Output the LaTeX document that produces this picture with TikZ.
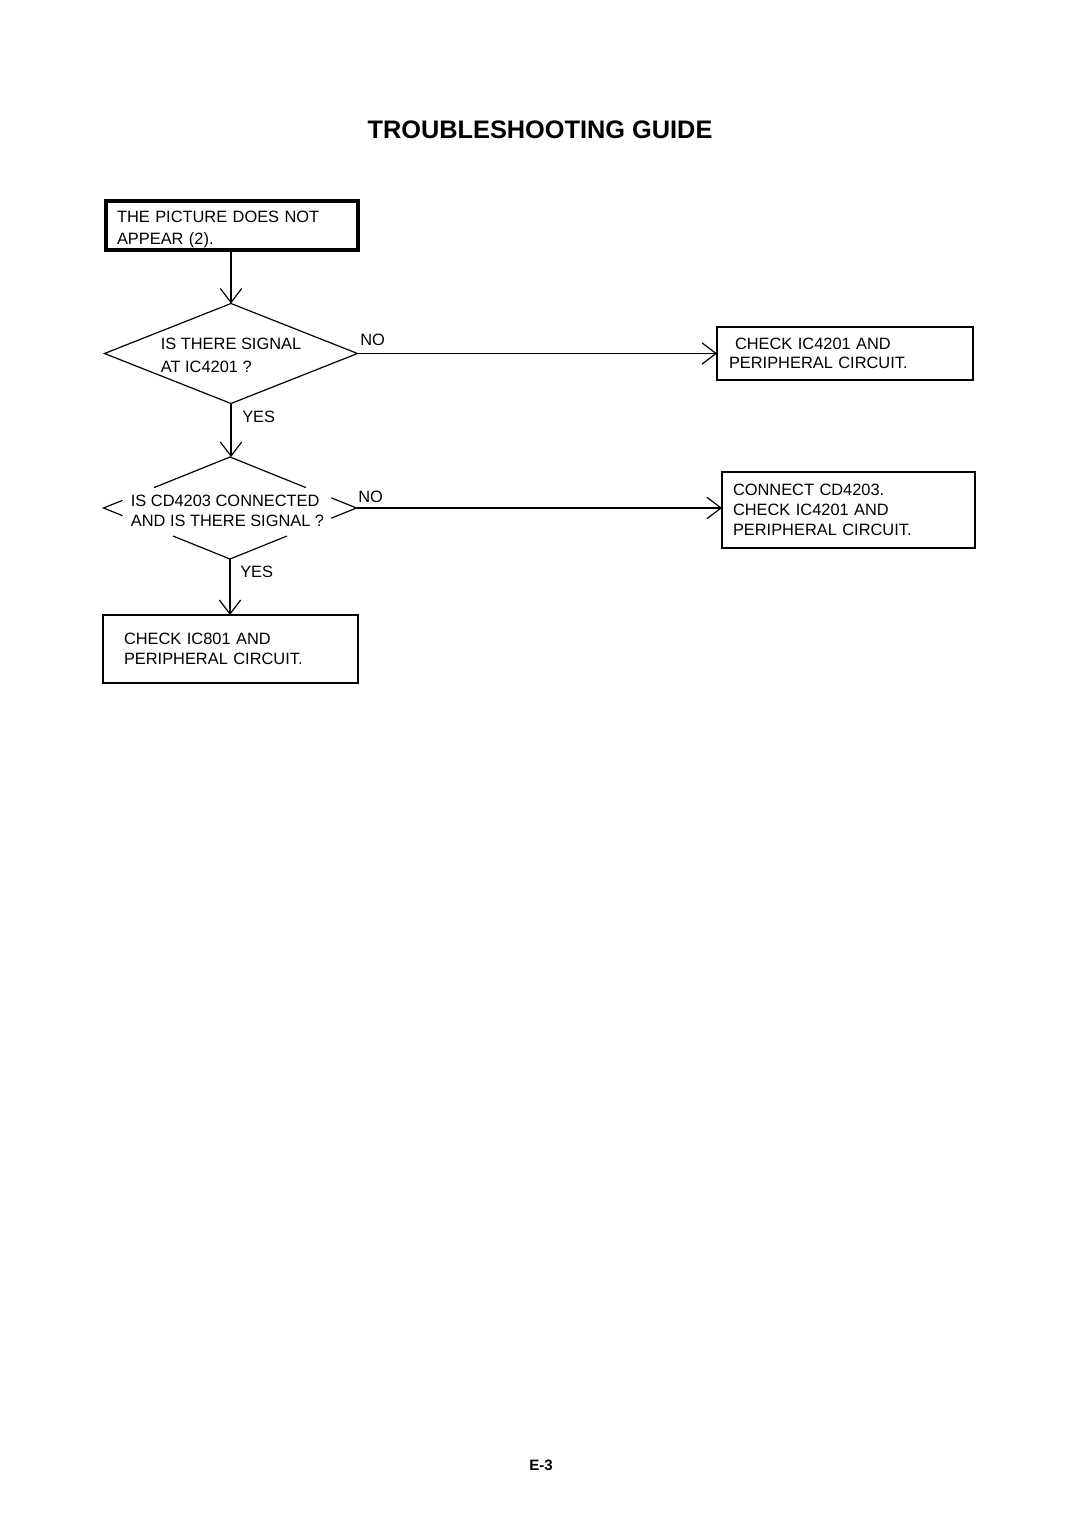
\documentclass[tikz,border=0pt]{standalone}
\usepackage{fontspec}
\setmainfont{Liberation Sans}
\usetikzlibrary{shapes.geometric,arrows.meta,calc}
\tikzset{
  txt/.style={font=\fontsize{12.3pt}{15pt}\selectfont},
  conn/.style={line width=0.9pt},
  arr/.style={conn,-{Straight Barb[length=10.5pt,width=16pt,line width=0.9pt]}},
  box/.style={draw,line width=0.9pt,rectangle,align=left,outer sep=0pt,txt},
  dia/.style={shape=diamond,inner sep=0pt,outer sep=0pt,line width=0.9pt},
  lbl/.style={txt,inner sep=0pt,anchor=west}
}
\begin{document}
\begin{tikzpicture}[x=0.75pt,y=-0.75pt]
\useasboundingbox (0,0) rectangle (1080,1528);

\node[font=\bfseries\fontsize{19pt}{23pt}\selectfont,inner sep=0pt] (title) at (540,130) {TROUBLESHOOTING GUIDE};

% start box
\node[box,line width=2.6pt,minimum width=252*0.75pt,minimum height=49*0.75pt,
      inner xsep=11*0.75pt,inner ysep=0pt,text width=230*0.75pt,
      font=\fontsize{12.3pt}{16.5pt}\selectfont] (b1) at (232,225.5)
  {\rule{0pt}{15pt}THE PICTURE DOES NOT\\APPEAR (2).};

% decision 1
\node[dia,draw,minimum width=253*0.75pt,minimum height=100*0.75pt] (d1) at (231,353.5) {};
\node[txt,align=left,inner sep=0pt,font=\fontsize{12.3pt}{16.9pt}\selectfont] (t1) at (231,355.5)
  {IS THERE SIGNAL\\AT IC4201 ?};

% box A
\node[box,minimum width=256*0.75pt,minimum height=53*0.75pt,
      inner xsep=12*0.75pt,text width=232*0.75pt,
      font=\fontsize{12.3pt}{14.6pt}\selectfont] (bA) at (845,353.5)
  {\hspace*{4.5pt}CHECK IC4201 AND\\PERIPHERAL CIRCUIT.};

% decision 2 (broken outline)
\node[dia,minimum width=253*0.75pt,minimum height=102*0.75pt] (d2) at (230,508) {};
\node[txt,align=left,inner sep=0pt] (t2) at (227.5,510.5)
  {IS CD4203 CONNECTED\\AND IS THERE SIGNAL ?};
\draw[conn] ($(d2.north)!0.6!(d2.west)$) -- (d2.north) -- ($(d2.north)!0.6!(d2.east)$);
\draw[conn] ($(d2.south)!0.45!(d2.west)$) -- (d2.south) -- ($(d2.south)!0.45!(d2.east)$);
\draw[conn] ($(d2.west)!0.15!(d2.north)$) -- (d2.west) -- ($(d2.west)!0.15!(d2.south)$);
\draw[conn] ($(d2.east)!0.2!(d2.north)$) -- (d2.east) -- ($(d2.east)!0.2!(d2.south)$);

% box B
\node[box,minimum width=253*0.75pt,minimum height=76*0.75pt,
      inner xsep=11*0.75pt,text width=231*0.75pt] (bB) at (848.5,510)
  {CONNECT CD4203.\\CHECK IC4201 AND\\PERIPHERAL CIRCUIT.};

% box C
\node[box,minimum width=255*0.75pt,minimum height=68*0.75pt,
      inner xsep=21*0.75pt,text width=213*0.75pt] (bC) at (230.5,649)
  {CHECK IC801 AND\\PERIPHERAL CIRCUIT.};

% connectors
\draw[arr] (d1.north |- b1.south) -- (d1.north);
\draw[arr] (d1.east) -- (bA.west);
\draw[arr] (d1.south) -- (d1.south |- d2.north);
\draw[arr] (d2.east) -- (d2.east -| bB.west);
\draw[arr] (d2.south) -- (d2.south |- bC.north);

% labels
\node[lbl] (no1) at (360,340) {NO};
\node[lbl] (yes1) at (242,417) {YES};
\node[lbl] (no2) at (358,497) {NO};
\node[lbl] (yes2) at (240,572) {YES};

\node[font=\bfseries\fontsize{11.3pt}{13pt}\selectfont,inner sep=0pt] (page) at (541,1465) {E-3};
\end{tikzpicture}
\end{document}
